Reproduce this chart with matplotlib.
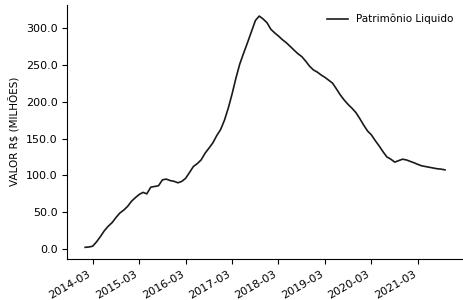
import matplotlib
matplotlib.use("Agg")
import matplotlib.pyplot as plt
import pandas as pd
from matplotlib.dates import DateFormatter, MonthLocator
from matplotlib.ticker import FormatStrFormatter

plt.rcParams.update({'font.size': 8})

# monthly net worth, R$ millions, from 2014-01
start = "2014-01-01"
valores = [
    2.5, 3, 4, 10, 17, 25, 31, 36, 43, 49, 53, 58,
    65, 70, 74, 77, 75, 84, 85, 86, 94, 95, 93, 92,
    90, 92, 96, 104, 112, 116, 121, 130, 137, 144, 154, 162,
    175, 192, 210, 232, 251, 266, 280, 295, 310, 316, 312, 307,
    298, 293, 289, 284, 280, 275, 270, 265, 261, 255, 248, 243,
    240, 236, 233, 229, 225, 217, 209, 202, 196, 191, 185, 177,
    168, 160, 155, 147, 140, 132, 125, 122, 118, 120, 122, 121,
    119, 117, 115, 113, 112, 111, 110, 109, 108.5, 107.5,
]
datas = pd.date_range(start, periods=len(valores), freq="MS")

fig = plt.figure(figsize=(4.63, 3.0), dpi=100)
ax = fig.add_axes([0.145, 0.137, 0.855, 0.848])

ax.plot(datas, valores, color="#1a1a1a", linewidth=1.2, label="Patrimônio Liquido")

ax.spines['top'].set_visible(False)
ax.spines['right'].set_visible(False)

ax.xaxis.set_major_locator(MonthLocator(bymonth=3))
ax.xaxis.set_major_formatter(DateFormatter('%Y-%m'))
ax.set_xticks(pd.date_range("2014-03-01", "2021-03-01", freq="12MS"))
plt.setp(ax.get_xticklabels(), rotation=30, ha="right")

ax.set_yticks([0, 50, 100, 150, 200, 250, 300])
ax.yaxis.set_major_formatter(FormatStrFormatter('%.1f'))
ax.set_ylabel("VALOR R$ (MILHÕES)", fontsize=7.5)

ax.legend(loc="upper right", frameon=False, fontsize=7.5)

fig.savefig("out.png", dpi=100)
